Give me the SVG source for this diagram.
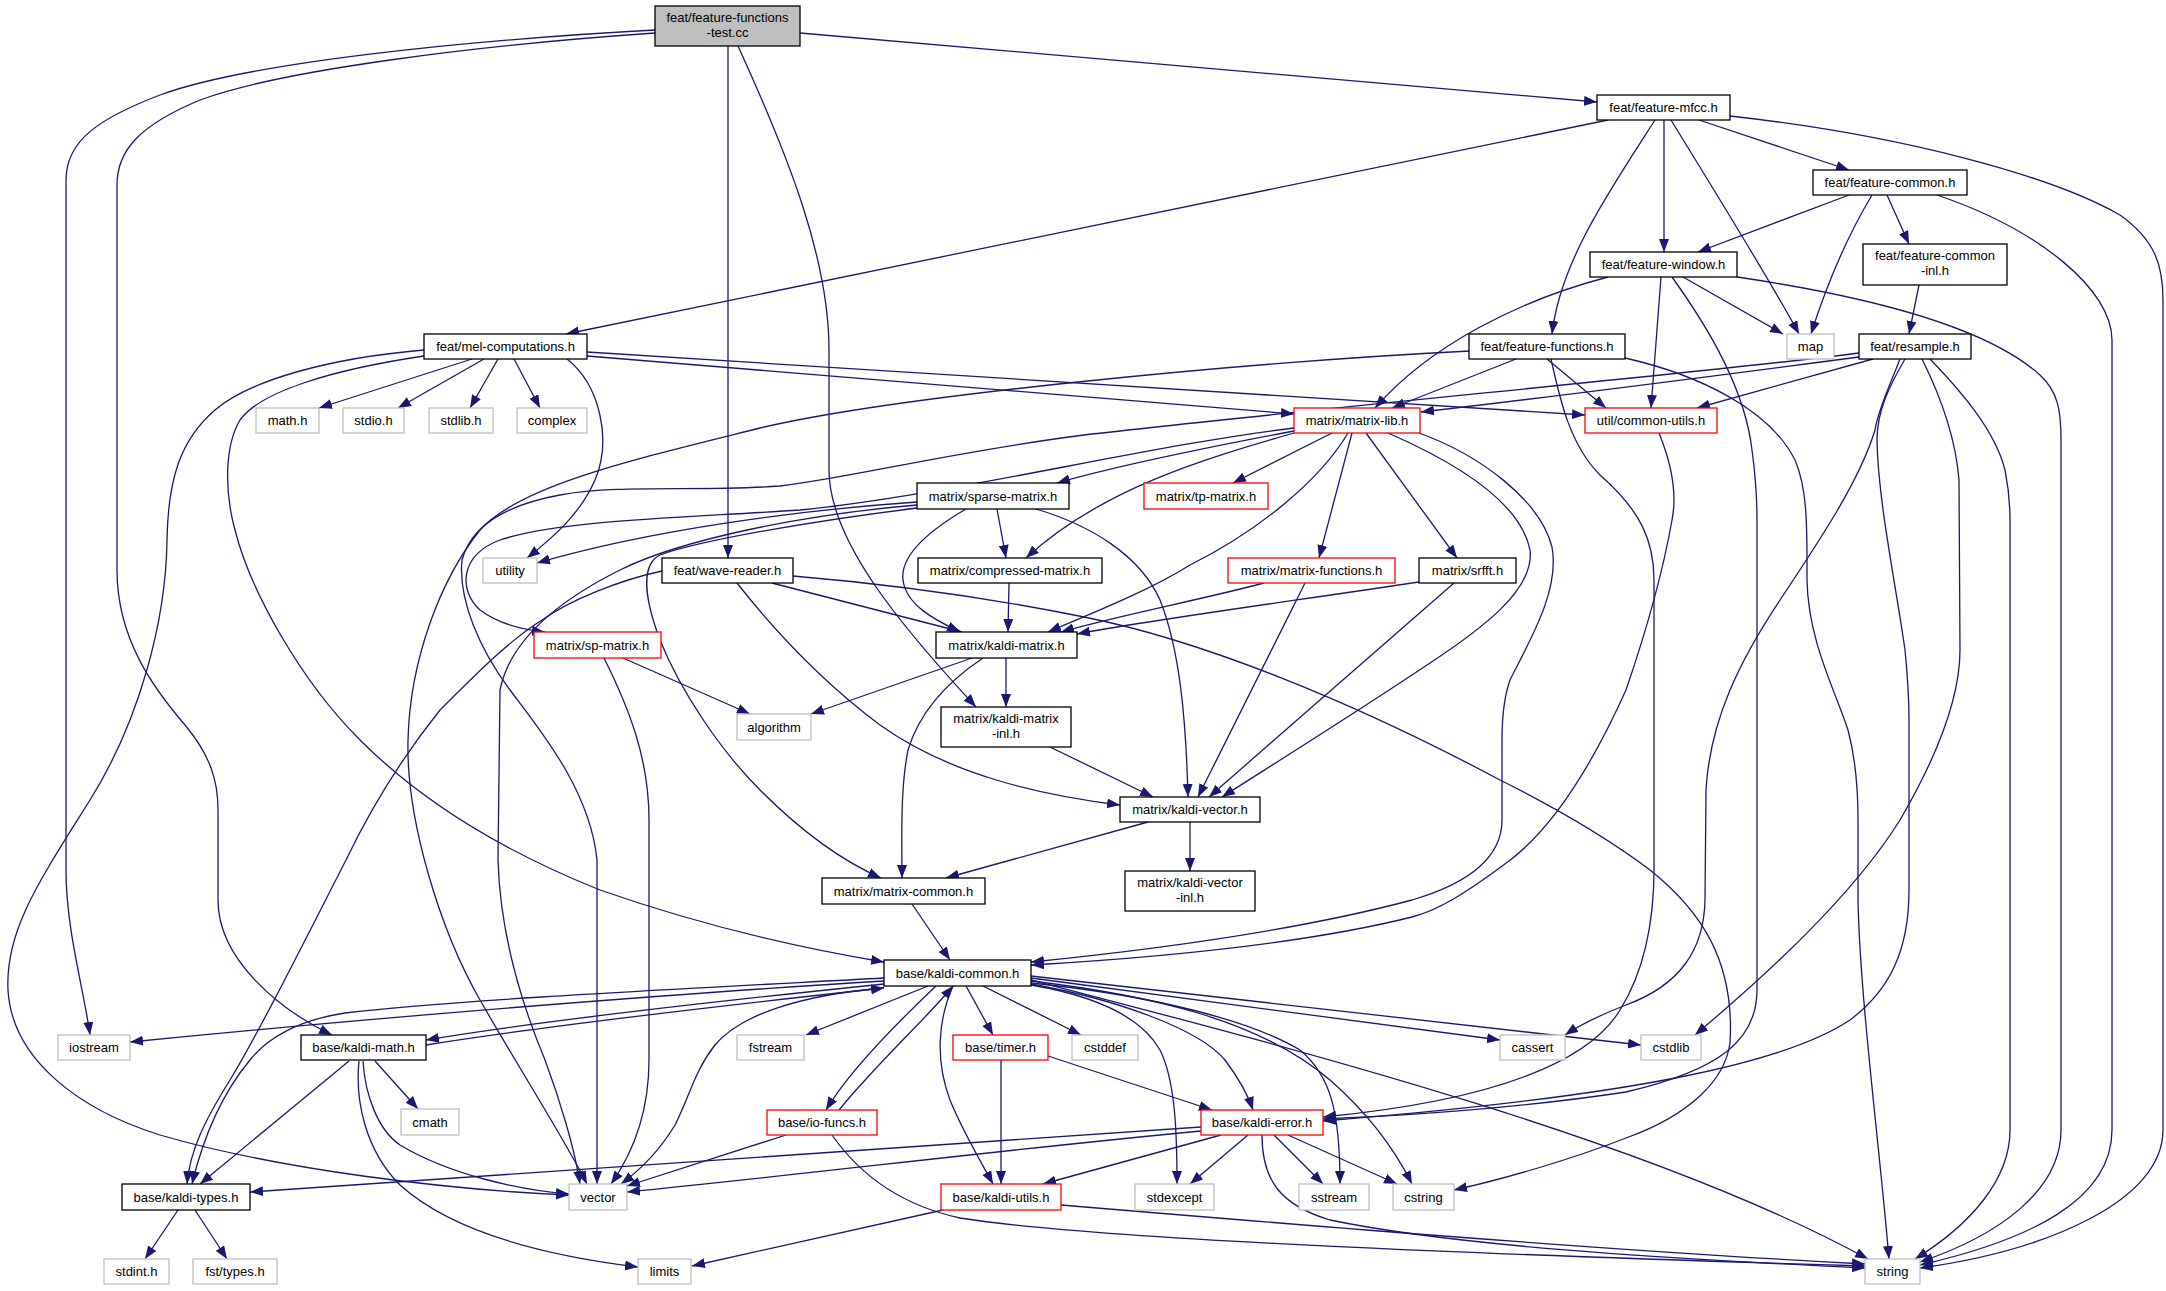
<svg xmlns="http://www.w3.org/2000/svg" width="2166" height="1291" viewBox="0 0 2166 1291">
<defs>
<marker id="a" markerUnits="userSpaceOnUse" markerWidth="14" markerHeight="11" refX="13" refY="5" orient="auto"><path d="M0,0 L13,5 L0,10 z" fill="#191970"/></marker>
<style>
.nd rect{fill:#fff;stroke:#000;stroke-width:1.3}
.nd.r rect{stroke:#ff0000}
.nd.g rect{stroke:#bfbfbf}
.nd.root rect{fill:#bfbfbf}
text{font-family:"Liberation Sans",Arial,Helvetica,sans-serif;font-size:13px;text-anchor:middle;fill:#000}
#edges path{fill:none;stroke:#191970;stroke-width:1.3;marker-end:url(#a)}
</style>
</defs>
<rect width="2166" height="1291" fill="#fff"/>
<g id="edges">
<path d="M800,33 L1597,102"/>
<path d="M655,30 C470,40 250,62 160,95 C100,118 66,140 66,180 L66,870 C66,930 84,990 90,1035"/>
<path d="M655,33 C480,45 280,70 200,100 C140,125 117,150 117,185 L117,570 C117,640 155,690 185,725 C210,755 218,780 218,810 L218,900 C218,960 280,1010 332,1035"/>
<path d="M728,46 L728,558"/>
<path d="M738,46 C790,160 829,260 829,350 L829,470 C829,540 900,625 976,707"/>
<path d="M1608,120 L566,334"/>
<path d="M1655,120 C1610,190 1560,262 1552,334"/>
<path d="M1664,120 L1664,252"/>
<path d="M1671,120 C1720,200 1770,280 1799,334"/>
<path d="M1699,120 L1849,170"/>
<path d="M1730,116 C1900,135 2050,175 2120,215 C2155,240 2163,265 2163,300 L2163,1130 C2163,1200 2050,1250 1920,1268"/>
<path d="M1849,195 L1698,252"/>
<path d="M1872,195 C1845,240 1825,290 1811,334"/>
<path d="M1887,195 L1909,244"/>
<path d="M1937,195 C2040,230 2112,290 2112,340 L2112,1130 C2112,1200 2030,1240 1920,1265"/>
<path d="M1919,285 L1909,334"/>
<path d="M1683,277 L1783,334"/>
<path d="M1661,277 L1651,408"/>
<path d="M1737,277 C1880,298 1990,330 2040,375 C2058,392 2061,410 2061,440 L2061,1130 C2061,1190 2000,1235 1920,1262"/>
<path d="M1672,277 C1710,330 1745,390 1752,450 C1756,480 1757,500 1757,520 L1757,990 C1757,1040 1720,1070 1626,1092 C1520,1108 1420,1115 1323,1119"/>
<path d="M1608,277 C1520,300 1430,345 1375,408"/>
<path d="M1516,359 L1392,408"/>
<path d="M1547,359 L1606,408"/>
<path d="M1470,351 C1250,362 900,395 760,428 C640,458 520,485 480,530 C440,580 410,660 408,740 C406,820 440,930 480,1000 C520,1070 565,1140 587,1184"/>
<path d="M1551,359 C1560,400 1570,445 1600,475 C1640,510 1654,540 1654,580 L1654,860 C1655,920 1645,970 1620,1010 C1590,1060 1500,1100 1323,1117"/>
<path d="M1625,358 C1700,375 1770,410 1795,460 C1808,490 1807,530 1807,580 C1808,640 1835,690 1848,730 C1856,760 1858,790 1858,820 L1858,900 C1860,1000 1880,1150 1889,1259"/>
<path d="M1905,359 C1890,385 1877,410 1877,440 C1878,500 1895,580 1905,650 C1908,680 1909,700 1909,720 L1909,890 C1909,950 1890,990 1850,1020 C1790,1060 1650,1095 1323,1121"/>
<path d="M1900,359 C1890,385 1878,410 1875,430 C1860,480 1820,540 1780,600 C1740,660 1710,720 1706,790 L1705,900 C1704,950 1680,985 1626,1005 C1600,1015 1580,1025 1565,1035"/>
<path d="M1922,359 C1935,385 1955,430 1959,480 L1960,650 C1960,700 1935,760 1900,820 C1850,900 1760,980 1695,1035"/>
<path d="M1930,359 C1960,390 1995,430 2005,470 C2009,490 2010,500 2010,520 L2010,1130 C2010,1180 1970,1225 1915,1259"/>
<path d="M1859,357 C1760,370 1560,396 1421,412"/>
<path d="M1873,359 L1697,408"/>
<path d="M1859,353 C1750,368 1300,410 1084,435 C950,452 850,478 780,486 C700,492 620,484 560,495 C500,506 470,530 462,560 C458,600 480,650 510,690 C540,730 590,790 597,860 L597,1184"/>
<path d="M472,359 L319,408"/>
<path d="M484,359 L398,408"/>
<path d="M498,359 L470,408"/>
<path d="M514,359 L540,408"/>
<path d="M567,359 C600,385 612,440 595,480 C580,515 550,540 527,558"/>
<path d="M587,356 L1294,414"/>
<path d="M587,352 L1585,415"/>
<path d="M424,350 C330,358 250,380 215,410 C180,440 168,480 167,540 C166,620 140,720 90,800 C40,880 5,930 8,990 C12,1060 80,1110 160,1135 C280,1170 450,1190 569,1195"/>
<path d="M424,356 C330,370 260,392 240,420 C225,445 224,490 235,530 C250,590 300,680 360,740 C420,800 500,850 600,890 C700,925 800,948 884,962"/>
<path d="M1294,431 C1220,445 1120,465 1057,483"/>
<path d="M1332,433 L1233,483"/>
<path d="M1294,428 C1150,445 950,495 800,510 C680,518 560,520 500,540 C460,555 458,590 480,610 C500,625 525,630 545,632"/>
<path d="M1294,433 C1200,460 1100,490 1026,558"/>
<path d="M1348,433 C1320,480 1260,530 1190,565 C1150,590 1100,610 1048,632"/>
<path d="M1352,433 L1319,558"/>
<path d="M1366,433 L1457,558"/>
<path d="M1388,433 C1450,460 1520,500 1530,550 C1535,590 1480,630 1430,663 C1360,710 1280,760 1222,797"/>
<path d="M1419,433 C1480,455 1540,500 1552,547 C1560,590 1530,640 1510,680 C1503,700 1502,720 1502,740 L1502,820 C1502,850 1480,880 1412,900 C1300,930 1150,950 1031,962"/>
<path d="M1659,433 C1670,460 1678,490 1672,520 C1665,560 1650,620 1626,690 C1590,770 1550,830 1509,861 C1470,890 1440,910 1412,917 C1300,945 1150,958 1031,965"/>
<path d="M997,509 L1006,558"/>
<path d="M966,509 C930,530 900,555 903,580 C906,605 935,620 960,632"/>
<path d="M1036,509 C1090,525 1140,555 1160,600 C1180,650 1186,720 1188,797"/>
<path d="M917,502 C800,510 650,530 537,563"/>
<path d="M917,505 C800,515 680,540 620,570 C560,600 510,640 500,690 L498,860 C500,930 520,1000 545,1060 C560,1100 575,1150 580,1184"/>
<path d="M917,508 C820,520 700,540 660,555 C640,565 645,600 660,640 C680,690 720,750 760,790 C800,830 840,860 881,878"/>
<path d="M772,583 L962,632"/>
<path d="M737,583 C770,625 820,680 880,725 C950,775 1040,795 1120,805"/>
<path d="M662,571 C620,580 570,600 542,620 C510,640 480,670 440,710 C400,760 370,810 346,860 C300,950 260,1030 230,1080 C205,1120 190,1150 187,1184"/>
<path d="M793,576 C900,585 1000,600 1084,617 C1200,640 1350,700 1500,780 C1560,810 1610,840 1650,870 C1700,910 1735,960 1730,1043 C1725,1080 1690,1115 1626,1138 C1570,1160 1500,1180 1454,1190"/>
<path d="M623,658 L750,714"/>
<path d="M604,658 C630,710 649,760 649,820 L649,1060 C649,1110 635,1150 611,1184"/>
<path d="M1009,583 L1008,632"/>
<path d="M1264,583 C1200,600 1120,615 1061,632"/>
<path d="M1305,583 L1198,797"/>
<path d="M1419,582 C1300,600 1150,620 1077,634"/>
<path d="M1454,583 L1209,797"/>
<path d="M972,658 L811,714"/>
<path d="M1006,658 L1006,707"/>
<path d="M983,658 C950,680 920,710 908,750 C900,790 902,840 902,878"/>
<path d="M1050,747 L1153,797"/>
<path d="M1190,822 L1190,871"/>
<path d="M1148,822 L946,878"/>
<path d="M912,904 L950,960"/>
<path d="M884,984 C700,1003 520,1024 426,1040"/>
<path d="M426,1045 C520,1030 700,1008 884,988"/>
<path d="M884,981 C700,992 400,1015 130,1042"/>
<path d="M884,978 C700,988 450,1000 345,1013 C300,1020 270,1035 250,1060 C225,1090 205,1130 192,1184"/>
<path d="M928,986 L806,1035"/>
<path d="M966,986 L993,1035"/>
<path d="M983,986 L1081,1035"/>
<path d="M936,986 C900,1020 850,1070 826,1110"/>
<path d="M839,1110 C880,1060 925,1020 953,986"/>
<path d="M953,986 C938,1020 935,1060 950,1100 C962,1130 980,1160 993,1184"/>
<path d="M884,988 C800,995 740,1015 715,1045 C695,1070 690,1095 675,1125 C660,1150 640,1170 621,1184"/>
<path d="M1031,985 C1090,995 1140,1015 1160,1050 C1175,1080 1177,1130 1177,1184"/>
<path d="M1031,984 C1120,1000 1200,1030 1225,1060 C1240,1080 1248,1095 1253,1110"/>
<path d="M1031,983 C1150,995 1250,1020 1300,1050 C1330,1075 1340,1110 1340,1184"/>
<path d="M1031,981 C1150,995 1260,1020 1330,1080 C1370,1115 1395,1150 1412,1184"/>
<path d="M1031,978 L1500,1040"/>
<path d="M1031,976 L1641,1045"/>
<path d="M1031,980 C1300,1050 1650,1140 1868,1259"/>
<path d="M349,1061 L200,1184"/>
<path d="M375,1061 L418,1109"/>
<path d="M363,1061 C365,1095 378,1130 400,1145 C450,1175 520,1190 569,1194"/>
<path d="M359,1061 C355,1100 365,1150 400,1185 C450,1230 540,1255 638,1267"/>
<path d="M178,1210 L145,1259"/>
<path d="M195,1210 L227,1259"/>
<path d="M786,1135 L627,1186"/>
<path d="M832,1135 C860,1175 900,1205 960,1218 C1100,1240 1500,1255 1865,1266"/>
<path d="M943,1210 L692,1266"/>
<path d="M1061,1205 C1300,1225 1600,1250 1865,1264"/>
<path d="M1001,1060 L1001,1184"/>
<path d="M1048,1056 L1212,1110"/>
<path d="M1201,1127 L250,1192"/>
<path d="M1201,1131 C1000,1150 800,1175 627,1192"/>
<path d="M1221,1135 L1043,1184"/>
<path d="M1248,1135 L1190,1184"/>
<path d="M1274,1135 L1323,1184"/>
<path d="M1288,1135 L1397,1184"/>
<path d="M1262,1135 C1262,1180 1280,1205 1330,1220 C1450,1245 1650,1258 1865,1268"/>
</g>
<g id="n_root" class="nd root"><rect x="655" y="6" width="145" height="40"/><text x="727.5" y="21.5">feat/feature-functions</text><text x="727.5" y="36.5">-test.cc</text></g>
<g id="n_mfcc" class="nd"><rect x="1597" y="95" width="133" height="25"/><text x="1663.5" y="112">feat/feature-mfcc.h</text></g>
<g id="n_common" class="nd"><rect x="1813" y="170" width="154" height="25"/><text x="1890" y="187">feat/feature-common.h</text></g>
<g id="n_window" class="nd"><rect x="1590" y="252" width="147" height="25"/><text x="1663.5" y="269">feat/feature-window.h</text></g>
<g id="n_cinl" class="nd"><rect x="1863" y="244" width="144" height="41"/><text x="1935" y="260">feat/feature-common</text><text x="1935" y="275">-inl.h</text></g>
<g id="n_map" class="nd g"><rect x="1787" y="334" width="47" height="25"/><text x="1810.5" y="351">map</text></g>
<g id="n_resample" class="nd"><rect x="1859" y="334" width="112" height="25"/><text x="1915" y="351">feat/resample.h</text></g>
<g id="n_mel" class="nd"><rect x="424" y="334" width="163" height="25"/><text x="505.5" y="351">feat/mel-computations.h</text></g>
<g id="n_ff" class="nd"><rect x="1469" y="334" width="156" height="25"/><text x="1547" y="351">feat/feature-functions.h</text></g>
<g id="n_math" class="nd g"><rect x="256" y="408" width="63" height="25"/><text x="287.5" y="425">math.h</text></g>
<g id="n_stdio" class="nd g"><rect x="343" y="408" width="61" height="25"/><text x="373.5" y="425">stdio.h</text></g>
<g id="n_stdlib" class="nd g"><rect x="429" y="408" width="64" height="25"/><text x="461" y="425">stdlib.h</text></g>
<g id="n_complex" class="nd g"><rect x="517" y="408" width="70" height="25"/><text x="552" y="425">complex</text></g>
<g id="n_mlib" class="nd r"><rect x="1294" y="408" width="126" height="25"/><text x="1357" y="425">matrix/matrix-lib.h</text></g>
<g id="n_cu" class="nd r"><rect x="1585" y="408" width="132" height="25"/><text x="1651" y="425">util/common-utils.h</text></g>
<g id="n_sparse" class="nd"><rect x="917" y="483" width="152" height="26"/><text x="993" y="500.5">matrix/sparse-matrix.h</text></g>
<g id="n_tp" class="nd r"><rect x="1144" y="483" width="124" height="26"/><text x="1206" y="500.5">matrix/tp-matrix.h</text></g>
<g id="n_utility" class="nd g"><rect x="483" y="558" width="54" height="25"/><text x="510" y="575">utility</text></g>
<g id="n_wave" class="nd"><rect x="662" y="558" width="131" height="25"/><text x="727.5" y="575">feat/wave-reader.h</text></g>
<g id="n_comp" class="nd"><rect x="918" y="558" width="184" height="25"/><text x="1010" y="575">matrix/compressed-matrix.h</text></g>
<g id="n_mfun" class="nd r"><rect x="1228" y="558" width="167" height="25"/><text x="1311.5" y="575">matrix/matrix-functions.h</text></g>
<g id="n_srfft" class="nd"><rect x="1419" y="558" width="97" height="25"/><text x="1467.5" y="575">matrix/srfft.h</text></g>
<g id="n_sp" class="nd r"><rect x="534" y="632" width="127" height="26"/><text x="597.5" y="649.5">matrix/sp-matrix.h</text></g>
<g id="n_kmat" class="nd"><rect x="936" y="632" width="141" height="26"/><text x="1006.5" y="649.5">matrix/kaldi-matrix.h</text></g>
<g id="n_alg" class="nd g"><rect x="737" y="714" width="74" height="26"/><text x="774" y="731.5">algorithm</text></g>
<g id="n_kminl" class="nd"><rect x="941" y="707" width="130" height="40"/><text x="1006" y="722.5">matrix/kaldi-matrix</text><text x="1006" y="737.5">-inl.h</text></g>
<g id="n_kvec" class="nd"><rect x="1120" y="797" width="140" height="25"/><text x="1190" y="814">matrix/kaldi-vector.h</text></g>
<g id="n_mcommon" class="nd"><rect x="822" y="878" width="163" height="26"/><text x="903.5" y="895.5">matrix/matrix-common.h</text></g>
<g id="n_kvinl" class="nd"><rect x="1125" y="871" width="130" height="40"/><text x="1190" y="886.5">matrix/kaldi-vector</text><text x="1190" y="901.5">-inl.h</text></g>
<g id="n_kcommon" class="nd"><rect x="884" y="960" width="147" height="26"/><text x="957.5" y="977.5">base/kaldi-common.h</text></g>
<g id="n_iostream" class="nd g"><rect x="58" y="1035" width="72" height="25"/><text x="94" y="1052">iostream</text></g>
<g id="n_kmath" class="nd"><rect x="301" y="1035" width="125" height="25"/><text x="363.5" y="1052">base/kaldi-math.h</text></g>
<g id="n_fstream" class="nd g"><rect x="737" y="1035" width="67" height="25"/><text x="770.5" y="1052">fstream</text></g>
<g id="n_timer" class="nd r"><rect x="953" y="1035" width="95" height="25"/><text x="1000.5" y="1052">base/timer.h</text></g>
<g id="n_cstddef" class="nd g"><rect x="1072" y="1035" width="66" height="25"/><text x="1105" y="1052">cstddef</text></g>
<g id="n_cassert" class="nd g"><rect x="1500" y="1035" width="65" height="25"/><text x="1532.5" y="1052">cassert</text></g>
<g id="n_cstdlib" class="nd g"><rect x="1641" y="1035" width="60" height="25"/><text x="1671" y="1052">cstdlib</text></g>
<g id="n_cmath" class="nd g"><rect x="401" y="1109" width="58" height="26"/><text x="430" y="1126.5">cmath</text></g>
<g id="n_io" class="nd r"><rect x="767" y="1110" width="110" height="25"/><text x="822" y="1127">base/io-funcs.h</text></g>
<g id="n_kerr" class="nd r"><rect x="1201" y="1110" width="122" height="25"/><text x="1262" y="1127">base/kaldi-error.h</text></g>
<g id="n_ktypes" class="nd"><rect x="122" y="1184" width="128" height="26"/><text x="186" y="1201.5">base/kaldi-types.h</text></g>
<g id="n_vector" class="nd g"><rect x="569" y="1184" width="58" height="26"/><text x="598" y="1201.5">vector</text></g>
<g id="n_kutils" class="nd r"><rect x="941" y="1184" width="120" height="26"/><text x="1001" y="1201.5">base/kaldi-utils.h</text></g>
<g id="n_stdexcept" class="nd g"><rect x="1135" y="1184" width="79" height="26"/><text x="1174.5" y="1201.5">stdexcept</text></g>
<g id="n_sstream" class="nd g"><rect x="1299" y="1184" width="70" height="26"/><text x="1334" y="1201.5">sstream</text></g>
<g id="n_cstring" class="nd g"><rect x="1393" y="1184" width="61" height="26"/><text x="1423.5" y="1201.5">cstring</text></g>
<g id="n_stdint" class="nd g"><rect x="104" y="1259" width="65" height="25"/><text x="136.5" y="1276">stdint.h</text></g>
<g id="n_fsttypes" class="nd g"><rect x="193" y="1259" width="84" height="25"/><text x="235" y="1276">fst/types.h</text></g>
<g id="n_limits" class="nd g"><rect x="638" y="1259" width="53" height="25"/><text x="664.5" y="1276">limits</text></g>
<g id="n_string" class="nd g"><rect x="1865" y="1259" width="55" height="25"/><text x="1892.5" y="1276">string</text></g>
</svg>
